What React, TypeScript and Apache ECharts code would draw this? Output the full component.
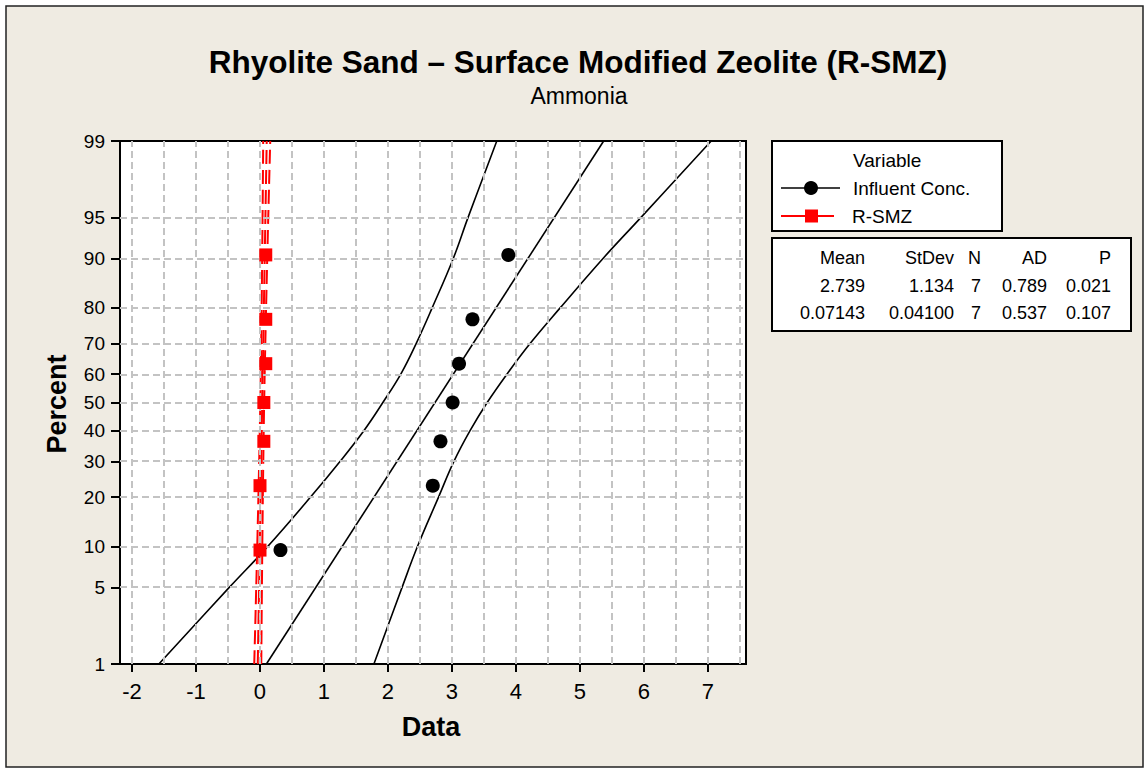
import React, { useEffect, useRef } from "react";
import * as echarts from "echarts";

// ---- data ----
const percentTicks = [1, 5, 10, 20, 30, 40, 50, 60, 70, 80, 90, 95, 99];
const percentGrid = [5, 10, 20, 30, 40, 50, 60, 70, 80, 90, 95];
const xTicks = [-2, -1, 0, 1, 2, 3, 4, 5, 6, 7];
const xGrid = [-2, -1.5, -1, -0.5, 0, 0.5, 1, 1.5, 2, 2.5, 3, 3.5, 4, 4.5, 5, 5.5, 6, 6.5, 7, 7.5];

const plotPct = [9.46, 22.97, 36.49, 50, 63.51, 77.03, 90.54];
const influentX = [0.32, 2.7, 2.82, 3.01, 3.11, 3.32, 3.88];
const rsmzX = [0.0, 0.0, 0.06, 0.06, 0.09, 0.09, 0.09];

const fitPct = [1, 99];
const influentFitX = [0.1, 5.37];
const rsmzFitX = [-0.035, 0.105];

const bandPct = [1, 5, 10, 20, 30, 40, 50, 60, 70, 80, 90, 95, 99];
const influentLowerX = [-1.58, -0.48, 0.12, 0.79, 1.25, 1.62, 1.92, 2.2, 2.44, 2.69, 3.02, 3.25, 3.7];
const influentUpperX = [1.78, 2.22, 2.46, 2.79, 3.03, 3.28, 3.55, 3.86, 4.22, 4.69, 5.36, 5.95, 7.05];

const rsmzBandPct = [1, 50, 99];
const rsmzLowerX = [-0.09, 0.005, 0.05];
const rsmzUpperX = [0.02, 0.065, 0.16];

const statsHeader = ["Mean", "StDev", "N", "AD", "P"];
const statsInfluent = ["2.739", "1.134", "7", "0.789", "0.021"];
const statsRsmz = ["0.07143", "0.04100", "7", "0.537", "0.107"];

// ---- normal probability scale (inverse normal CDF, Acklam) ----
function normInv(p: number): number {
  const a = [-3.969683028665376e1, 2.209460984245205e2, -2.759285104469687e2, 1.38357751867269e2, -3.066479806614716e1, 2.506628277459239];
  const b = [-5.447609879822406e1, 1.615858368580409e2, -1.556989798598866e2, 6.680131188771972e1, -1.328068155288572e1];
  const c = [-7.784894002430293e-3, -3.223964580411365e-1, -2.400758277161838, -2.549732539343734, 4.374664141464968, 2.938163982698783];
  const d = [7.784695709041462e-3, 3.224671290700398e-1, 2.445134137142996, 3.754408661907416];
  const plow = 0.02425;
  const phigh = 1 - plow;
  let q: number, r: number;
  if (p < plow) {
    q = Math.sqrt(-2 * Math.log(p));
    return (((((c[0] * q + c[1]) * q + c[2]) * q + c[3]) * q + c[4]) * q + c[5]) / ((((d[0] * q + d[1]) * q + d[2]) * q + d[3]) * q + 1);
  }
  if (p <= phigh) {
    q = p - 0.5;
    r = q * q;
    return ((((((a[0] * r + a[1]) * r + a[2]) * r + a[3]) * r + a[4]) * r + a[5]) * q) / (((((b[0] * r + b[1]) * r + b[2]) * r + b[3]) * r + b[4]) * r + 1);
  }
  q = Math.sqrt(-2 * Math.log(1 - p));
  return -(((((c[0] * q + c[1]) * q + c[2]) * q + c[3]) * q + c[4]) * q + c[5]) / ((((d[0] * q + d[1]) * q + d[2]) * q + d[3]) * q + 1);
}
const zOf = (pct: number) => normInv(pct / 100);
const pairs = (xs: number[], ps: number[]) => xs.map((x, i) => [x, zOf(ps[i])]);

const FONT = "'Liberation Sans', Arial, sans-serif";

export default function App() {
  const ref = useRef<HTMLDivElement>(null);

  useEffect(() => {
    if (!ref.current) return;
    const chart = echarts.init(ref.current, undefined, { renderer: "svg" });

    const zTicks = percentTicks.map(zOf);
    const zGrid = percentGrid.map(zOf);
    const zMin = zOf(percentTicks[0]);
    const zMax = zOf(percentTicks[percentTicks.length - 1]);
    const xMin = -2.1875;
    const xMax = 7.594;

    const gridLine = { color: "#c3c3c3", width: 2, type: [7, 4] as any };
    const redLine = { color: "#ff0000", width: 2, type: [14, 6] as any };
    const blackLine = { color: "#000", width: 1.6 };

    const text = (t: string, x: number, y: number, size: number, align = "left", weight = "normal", extra: any = {}) => ({
      type: "text",
      x,
      y,
      silent: true,
      z: 100,
      ...extra,
      style: {
        text: t,
        fill: "#000",
        font: `${weight} ${size}px ${FONT}`,
        align,
        textAlign: align,
        verticalAlign: "middle",
        textVerticalAlign: "middle",
      },
    });

    const tableRight = [865, 954, 981, 1047, 1111];
    const rowsY = [258, 286, 313];
    const tableTexts: any[] = [];
    [statsHeader, statsInfluent, statsRsmz].forEach((row, ri) => {
      row.forEach((t, ci) => tableTexts.push(text(t, tableRight[ci], rowsY[ri], 18, "right")));
    });

    const option: any = {
      animation: false,
      backgroundColor: "#ffffff",
      grid: {
        left: 120,
        top: 141,
        width: 626,
        height: 523,
        show: true,
        backgroundColor: "#ffffff",
        borderColor: "#000",
        borderWidth: 2,
        z: 1,
      },
      xAxis: {
        type: "value",
        min: xMin,
        max: xMax,
        position: "bottom",
        axisLine: { show: true, onZero: false, lineStyle: { color: "#000", width: 2 } },
        axisTick: { show: true, customValues: xTicks, length: 8, lineStyle: { color: "#000", width: 2 } },
        axisLabel: { show: true, customValues: xTicks, color: "#000", fontSize: 22, fontFamily: FONT, margin: 16 },
        splitLine: { show: false },
      },
      yAxis: {
        type: "value",
        min: zMin,
        max: zMax,
        axisLine: { show: true, onZero: false, lineStyle: { color: "#000", width: 2 } },
        axisTick: { show: true, customValues: zTicks, length: 9, lineStyle: { color: "#000", width: 2 } },
        axisLabel: {
          show: true,
          customValues: zTicks,
          color: "#000",
          fontSize: 19,
          fontFamily: FONT,
          margin: 15,
          formatter: (v: number) => {
            let best = percentTicks[0];
            let bd = Infinity;
            percentTicks.forEach((p) => {
              const dd = Math.abs(zOf(p) - v);
              if (dd < bd) {
                bd = dd;
                best = p;
              }
            });
            return String(best);
          },
        },
        splitLine: { show: false },
      },
      series: [
        {
          name: "grid",
          type: "line",
          data: [[xMin, zMin]],
          showSymbol: false,
          silent: true,
          z: 2,
          lineStyle: { opacity: 0 },
          markLine: {
            silent: true,
            symbol: "none",
            animation: false,
            label: { show: false },
            lineStyle: gridLine,
            emphasis: { disabled: true },
            data: [...xGrid.map((v) => ({ xAxis: v })), ...zGrid.map((z) => ({ yAxis: z }))],
          },
        },
        {
          name: "Influent lower",
          type: "line",
          data: pairs(influentLowerX, bandPct),
          smooth: 0.4,
          showSymbol: false,
          silent: true,
          lineStyle: blackLine,
          z: 3,
        },
        {
          name: "Influent upper",
          type: "line",
          data: pairs(influentUpperX, bandPct),
          smooth: 0.4,
          showSymbol: false,
          silent: true,
          lineStyle: blackLine,
          z: 3,
        },
        {
          name: "Influent fit",
          type: "line",
          data: pairs(influentFitX, fitPct),
          showSymbol: false,
          silent: true,
          lineStyle: blackLine,
          z: 3,
        },
        {
          name: "R-SMZ lower",
          type: "line",
          data: pairs(rsmzLowerX, rsmzBandPct),
          smooth: 0.4,
          showSymbol: false,
          silent: true,
          lineStyle: redLine,
          z: 4,
        },
        {
          name: "R-SMZ upper",
          type: "line",
          data: pairs(rsmzUpperX, rsmzBandPct),
          smooth: 0.4,
          showSymbol: false,
          silent: true,
          lineStyle: redLine,
          z: 4,
        },
        {
          name: "R-SMZ fit",
          type: "line",
          data: pairs(rsmzFitX, fitPct),
          showSymbol: false,
          silent: true,
          lineStyle: redLine,
          z: 4,
        },
        {
          name: "Influent Conc.",
          type: "scatter",
          data: pairs(influentX, plotPct),
          symbol: "circle",
          symbolSize: 14,
          itemStyle: { color: "#000", opacity: 1 },
          z: 5,
        },
        {
          name: "R-SMZ",
          type: "scatter",
          data: pairs(rsmzX, plotPct),
          symbol: "rect",
          symbolSize: 13,
          itemStyle: { color: "#ff0000", opacity: 1 },
          z: 5,
        },
      ],
      graphic: [
        {
          type: "rect",
          shape: { x: 6, y: 6, width: 1137, height: 761 },
          style: { fill: "#efebe2", stroke: "#222", lineWidth: 1.5 },
          z: -10,
          silent: true,
        },
        text("Rhyolite Sand \u2013 Surface Modified Zeolite (R-SMZ)", 578, 62, 31.5, "center", "bold"),
        text("Ammonia", 579, 96, 23, "center"),
        text("Data", 431, 727, 27, "center", "bold"),
        text("Percent", 57, 404, 27, "center", "bold", { rotation: Math.PI / 2 }),
        // legend box
        {
          type: "rect",
          shape: { x: 772, y: 141, width: 230, height: 90 },
          style: { fill: "#ffffff", stroke: "#000", lineWidth: 2 },
          z: 90,
          silent: true,
        },
        text("Variable", 853, 160, 19, "left"),
        {
          type: "line",
          shape: { x1: 781, y1: 188, x2: 840, y2: 188 },
          style: { stroke: "#000", lineWidth: 1.6 },
          z: 100,
          silent: true,
        },
        { type: "circle", shape: { cx: 811, cy: 188, r: 7 }, style: { fill: "#000" }, z: 101, silent: true },
        text("Influent Conc.", 853, 188, 19, "left"),
        {
          type: "line",
          shape: { x1: 781, y1: 216, x2: 834, y2: 216 },
          style: { stroke: "#ff0000", lineWidth: 2 },
          z: 100,
          silent: true,
        },
        { type: "rect", shape: { x: 805, y: 209.5, width: 13, height: 13 }, style: { fill: "#ff0000" }, z: 101, silent: true },
        text("R-SMZ", 852, 216, 19, "left"),
        // stats table
        {
          type: "rect",
          shape: { x: 772, y: 238, width: 359, height: 93 },
          style: { fill: "#ffffff", stroke: "#000", lineWidth: 2 },
          z: 90,
          silent: true,
        },
        ...tableTexts,
      ],
    };

    chart.setOption(option);
    return () => chart.dispose();
  }, []);

  return (
    <div
      ref={ref}
      style={{ position: "absolute", left: 0, top: 0, width: 1144, height: 768, background: "#fff" }}
    />
  );
}
